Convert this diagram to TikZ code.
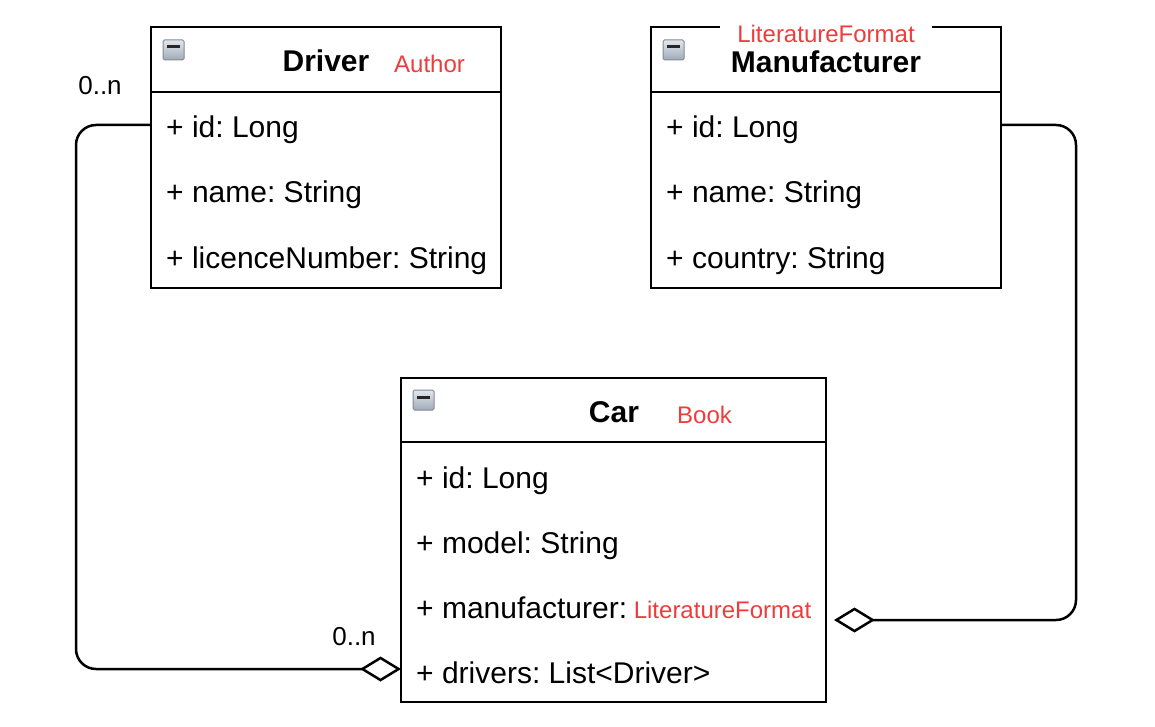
\documentclass[tikz,border=0pt]{standalone}
\usepackage{fontspec}
\setmainfont{Liberation Sans}
\usetikzlibrary{arrows.meta}
\definecolor{lblred}{RGB}{238,60,60}
\definecolor{icontop}{RGB}{225,231,238}
\definecolor{iconbot}{RGB}{160,170,182}
\definecolor{iconedge}{RGB}{130,138,148}
\newcommand{\rowfont}{\fontsize{30}{36}\selectfont}
\newcommand{\redfont}{\fontsize{24}{29}\selectfont}
\frenchspacing
\begin{document}
\begin{tikzpicture}[x=1pt,y=-1pt,
  classbox/.style={draw, line width=2.5pt, rectangle, outer sep=0pt, inner sep=0pt, anchor=north west},
  rowtext/.style={anchor=base west, inner sep=0pt, font=\rowfont},
  title/.style={anchor=base, inner sep=0pt, font=\rowfont\bfseries},
  stereo/.style={inner sep=0pt, font=\redfont, text=lblred},
  mult/.style={anchor=base, inner sep=0pt, font=\fontsize{26}{31}\selectfont},
  sepline/.style={line width=2.5pt},
  conn/.style={line width=2.5pt, rounded corners=20pt},
  agg/.style={-{Diamond[open, length=41pt, width=25pt]}},
  minbox/.pic={
    \shade[top color=icontop, bottom color=iconbot, draw=iconedge, line width=1pt, rounded corners=1.5pt] (0,0) rectangle (21,20);
    \draw[line width=3pt, black!85] (4,7) -- (17,7);
  }]
\useasboundingbox (0,0) rectangle (1155,727);

% ---------- Driver ----------
\node[classbox, minimum width=350pt, minimum height=261pt] (driver) at (151,27) {};
\draw[sepline] ([yshift=-65pt]driver.north west) -- ([yshift=-65pt]driver.north east);
\pic at (163,40) {minbox};
\node[title] (drvT) at (326,72) {Driver};
\node[stereo, anchor=base west] (drvS) at (394,73) {Author};
\node[rowtext] (drv1) at (166,138) {+ id: Long};
\node[rowtext] (drv2) at (166,203) {+ name: String};
\node[rowtext] (drv3) at (166,268) {+ licenceNumber: String};

% ---------- Manufacturer ----------
\node[classbox, minimum width=350pt, minimum height=261pt] (manu) at (651,27) {};
\draw[sepline] ([yshift=-65pt]manu.north west) -- ([yshift=-65pt]manu.north east);
\pic at (663,40) {minbox};
\node[title] (manT) at (826,73) {Manufacturer};
\node[stereo, anchor=base, fill=white, inner xsep=17pt, inner ysep=1.5pt] (manS) at (826,43) {LiteratureFormat};
\node[rowtext] (man1) at (666,138) {+ id: Long};
\node[rowtext] (man2) at (666,203) {+ name: String};
\node[rowtext] (man3) at (666,268) {+ country: String};

% ---------- Car ----------
\node[classbox, minimum width=425pt, minimum height=324pt] (car) at (401,378) {};
\draw[sepline] ([yshift=-64pt]car.north west) -- ([yshift=-64pt]car.north east);
\pic at (413,390) {minbox};
\node[title] (carT) at (614,422) {Car};
\node[stereo, anchor=base west] (carS) at (677,423) {Book};
\node[rowtext] (car1) at (416,488) {+ id: Long};
\node[rowtext] (car2) at (416,553) {+ model: String};
\node[rowtext] (car3) at (416,618) {+ manufacturer:{\redfont\ \textcolor{lblred}{LiteratureFormat}}};
\node[rowtext] (car4) at (416,683) {+ drivers: List<Driver>};

% ---------- connectors ----------
\draw[conn, agg] ([yshift=-98pt]driver.north west) -- ++(-75,0) |- ([yshift=-291pt]car.north west);
\draw[conn, agg] ([yshift=-98pt]manu.north east) -- ++(75,0) |- ([xshift=8pt,yshift=-242pt]car.north east);

\node[mult] (m1) at (100,95) {0..n};
\node[mult] (m2) at (354,645) {0..n};
\end{tikzpicture}
\end{document}
